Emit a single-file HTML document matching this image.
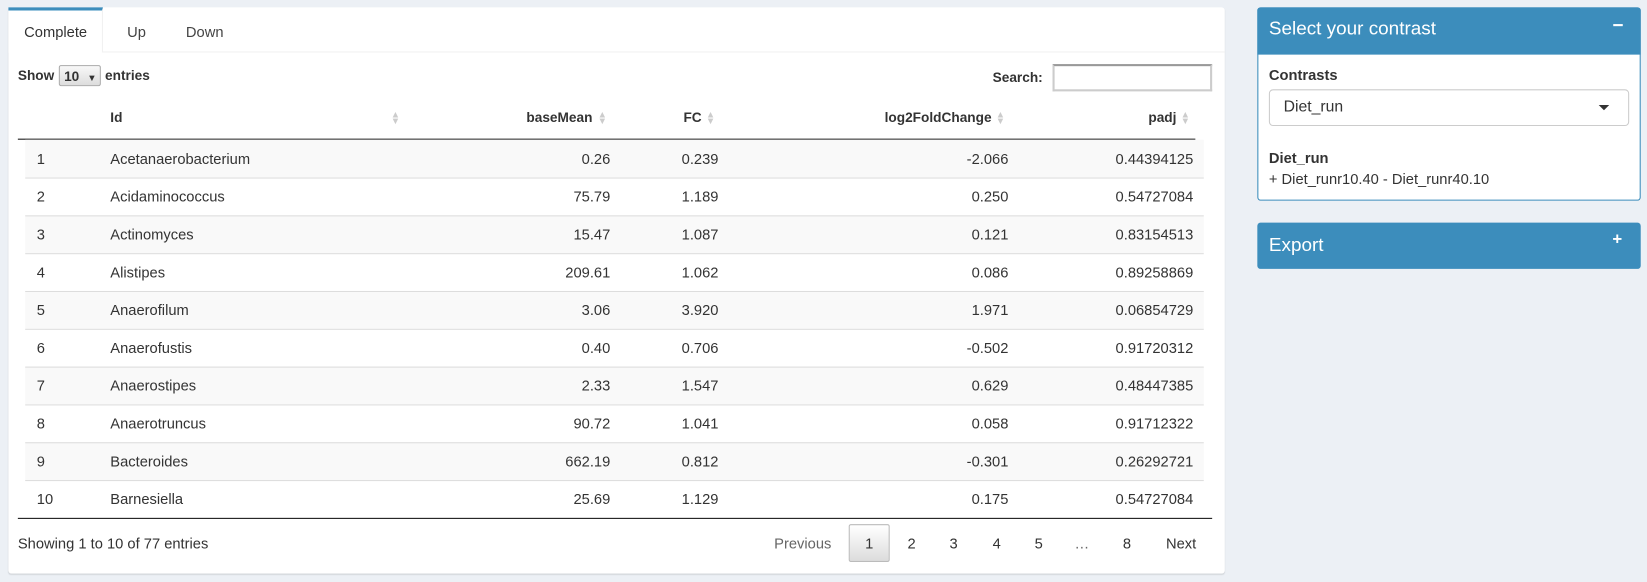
<!DOCTYPE html>
<html><head><style>
html,body{margin:0;width:1647px;height:582px;background:#ecf0f5;overflow:hidden}
#w{position:absolute;left:0;top:0;width:1568px;height:554px;transform:scale(1.0504);transform-origin:0 0;font-family:"Liberation Sans",sans-serif;font-size:14px;color:#333}
.a{position:absolute;white-space:nowrap}
.r{text-align:right}
.row{position:absolute;left:24px;width:1122px;height:36px;border-top:1px solid #ddd}
.sort{color:#ccc;font-size:9px;line-height:6px}
</style></head><body><div id="w">
<div class="a" style="left:8px;top:7px;width:1158px;height:539px;background:#fff;border-radius:3px;box-shadow:0 1px 1px rgba(0,0,0,.1)"></div>
<div class="a" style="left:8px;top:7px;width:1158px;height:42px;border-bottom:1px solid #f0f0f0"></div>
<div class="a" style="left:8px;top:7px;width:90px;height:43px;border-top:3px solid #3c8dbc;border-right:1px solid #f0f0f0;background:#fff;box-sizing:border-box"></div>
<div class="a" style="left:23px;top:22px">Complete</div>
<div class="a" style="left:121px;top:22px;color:#444">Up</div>
<div class="a" style="left:177px;top:22px;color:#444">Down</div>
<div class="a" style="left:17px;top:64px;font-weight:bold;font-size:13px">Show</div>
<div class="a" style="left:56px;top:62px;width:40px;height:20px;border:1px solid #aaa;border-radius:2px;background:linear-gradient(#f8f8f8,#ddd);font-size:13px;font-weight:bold;box-sizing:border-box;padding:2px 0 0 4px">10 <span style="font-size:9px;margin-left:4px">▼</span></div>
<div class="a" style="left:100px;top:64px;font-weight:bold;font-size:13px">entries</div>
<div class="a" style="left:945px;top:66px;font-weight:bold;font-size:13px">Search:</div>
<div class="a" style="left:1002px;top:61px;width:152px;height:26px;border:2px solid #ccc;border-top-color:#999;box-sizing:border-box"></div>
<div class="a" style="left:105px;top:104px;font-weight:bold;font-size:13px">Id</div>
<div class="a sort" style="left:372px;top:106px">▲<br>▼</div>
<div class="a r" style="left:440px;top:104px;width:124px;font-weight:bold;font-size:13px">baseMean</div>
<div class="a sort" style="left:569px;top:106px">▲<br>▼</div>
<div class="a r" style="left:600px;top:104px;width:68px;font-weight:bold;font-size:13px">FC</div>
<div class="a sort" style="left:672px;top:106px">▲<br>▼</div>
<div class="a r" style="left:780px;top:104px;width:164px;font-weight:bold;font-size:13px">log2FoldChange</div>
<div class="a sort" style="left:948px;top:106px">▲<br>▼</div>
<div class="a r" style="left:1040px;top:104px;width:80px;font-weight:bold;font-size:13px">padj</div>
<div class="a sort" style="left:1124px;top:106px">▲<br>▼</div>
<div class="a" style="left:17px;top:132px;width:1121px;height:1px;background:#111"></div>
<div id="rows"></div>
<div class="a" style="left:17px;top:493px;width:1137px;height:1px;background:#111"></div>
<div class="a" style="left:17px;top:509px">Showing 1 to 10 of 77 entries</div>
<div class="a" style="left:737px;top:509px;color:#666">Previous</div>
<div class="a" style="left:808px;top:499px;width:39px;height:36px;border:1px solid #bbb;border-radius:2px;background:linear-gradient(#fff,#dcdcdc);box-sizing:border-box;text-align:center;padding-top:9px">1</div>
<div class="a" style="left:864px;top:509px">2</div>
<div class="a" style="left:904px;top:509px">3</div>
<div class="a" style="left:945px;top:509px">4</div>
<div class="a" style="left:985px;top:509px">5</div>
<div class="a" style="left:1023px;top:509px;color:#666">…</div>
<div class="a" style="left:1069px;top:509px">8</div>
<div class="a" style="left:1110px;top:509px">Next</div>

<div class="a" style="left:1197px;top:7px;width:365px;height:184px;background:#fff;border:1px solid #3c8dbc;border-radius:3px;box-sizing:border-box"></div>
<div class="a" style="left:1197px;top:7px;width:365px;height:45px;background:#3c8dbc;border-radius:3px 3px 0 0"></div>
<div class="a" style="left:1208px;top:17px;color:#fff;font-size:18px">Select your contrast</div>
<div class="a" style="left:1535px;top:14px;color:#fff;font-size:18px;font-weight:bold">−</div>
<div class="a" style="left:1208px;top:63px;font-weight:bold;font-size:14px">Contrasts</div>
<div class="a" style="left:1208px;top:85px;width:343px;height:35px;border:1px solid #ccc;border-radius:4px;box-sizing:border-box"></div>
<div class="a" style="left:1222px;top:93px;font-size:15px">Diet_run</div>
<div class="a" style="left:1522px;top:100px;width:0;height:0;border-left:5px solid transparent;border-right:5px solid transparent;border-top:5px solid #333"></div>
<div class="a" style="left:1208px;top:142px;font-weight:bold">Diet_run</div>
<div class="a" style="left:1208px;top:162px">+ Diet_runr10.40 - Diet_runr40.10</div>
<div class="a" style="left:1197px;top:212px;width:365px;height:44px;background:#3c8dbc;border-radius:3px"></div>
<div class="a" style="left:1208px;top:223px;color:#fff;font-size:18px">Export</div>
<div class="a" style="left:1535px;top:220px;color:#fff;font-size:16px;font-weight:bold">+</div>
</div>
<script>
var d=[["Acetanaerobacterium","0.26","0.239","-2.066","0.44394125"],["Acidaminococcus","75.79","1.189","0.250","0.54727084"],["Actinomyces","15.47","1.087","0.121","0.83154513"],["Alistipes","209.61","1.062","0.086","0.89258869"],["Anaerofilum","3.06","3.920","1.971","0.06854729"],["Anaerofustis","0.40","0.706","-0.502","0.91720312"],["Anaerostipes","2.33","1.547","0.629","0.48447385"],["Anaerotruncus","90.72","1.041","0.058","0.91712322"],["Bacteroides","662.19","0.812","-0.301","0.26292721"],["Barnesiella","25.69","1.129","0.175","0.54727084"]];
var h="";d.forEach(function(r,i){var t=133+i*36;
h+='<div class="row" style="top:'+t+'px;background:'+(i%2?'#fff':'#f9f9f9')+';'+(i==0?'border-top:none;':'')+'"></div>';
var y=t+10;
h+='<div class="a" style="left:35px;top:'+y+'px">'+(i+1)+'</div><div class="a" style="left:105px;top:'+y+'px">'+r[0]+'</div>';
h+='<div class="a r" style="left:480px;width:101px;top:'+y+'px">'+r[1]+'</div>';
h+='<div class="a r" style="left:600px;width:84px;top:'+y+'px">'+r[2]+'</div>';
h+='<div class="a r" style="left:850px;width:110px;top:'+y+'px">'+r[3]+'</div>';
h+='<div class="a r" style="left:1000px;width:136px;top:'+y+'px">'+r[4]+'</div>';});
document.getElementById("rows").innerHTML=h;
</script>
</body></html>
